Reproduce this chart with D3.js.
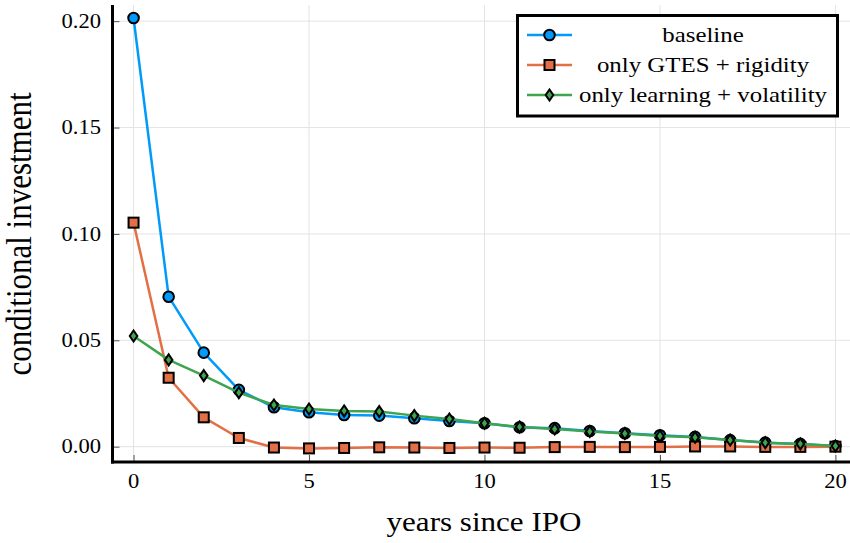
<!DOCTYPE html>
<html>
<head>
<meta charset="utf-8">
<script src="https://cdn.jsdelivr.net/npm/d3@7"></script>
<style>
  html, body { margin: 0; padding: 0; background: #fff; }
  svg text { font-family: "Liberation Serif", "DejaVu Serif", serif; fill: #000; }
</style>
</head>
<body>
<svg id="chart" width="850" height="543"></svg>
<script>
// Years since IPO
const years = d3.range(0, 21);

// Conditional investment by year, one array per model variant
const baseline = [0.2015, 0.0705, 0.0442, 0.0267, 0.0185, 0.0162, 0.0149, 0.0146, 0.0134, 0.0121,
                  0.0110, 0.0091, 0.0087, 0.0074, 0.0063, 0.0054, 0.0046, 0.0031, 0.0019, 0.0013, 0.0003];
const gtesRigidity = [0.1053, 0.0324, 0.0138, 0.0041, -0.0004, -0.0008, -0.0006, -0.0003, -0.0004, -0.0006,
                      -0.0004, -0.0005, -0.0002, -0.0001, -0.0002, -0.0001, 0.0001, 0.0001, -0.0001, -0.0001, 0.0000];
const learningVolatility = [0.0520, 0.0408, 0.0334, 0.0254, 0.0196, 0.0177, 0.0168, 0.0165, 0.0146, 0.0130,
                            0.0110, 0.0093, 0.0083, 0.0071, 0.0062, 0.0050, 0.0044, 0.0031, 0.0019, 0.0013, 0.0003];

const seriesNames = ["baseline", "only GTES + rigidity", "only learning + volatility"];
const seriesColors = ["#009AFA", "#E26F46", "#3EA44E"];
const seriesShapes = ["circle", "square", "diamond"];

const xTicks = [0, 5, 10, 15, 20];
const yTicks = [0.00, 0.05, 0.10, 0.15, 0.20];
const xTitle = "years since IPO";
const yTitle = "conditional investment";

const svg = d3.select("#chart");

const plot = { left: 112.5, right: 856.5, top: 5, bottom: 462 };

const x = d3.scaleLinear().domain([-0.6, 20.6]).range([plot.left, plot.right]);
const y = d3.scaleLinear().domain([-0.0072, 0.2076]).range([plot.bottom, plot.top]);

// Text is drawn slightly wide, like the rest of the figure
const stretch = 1.13;

// Grid lines
const grid = svg.append("g").attr("stroke", "#e3e3e3").attr("stroke-width", 1);
grid.selectAll(".gx").data(xTicks).join("line")
  .attr("x1", d => x(d)).attr("x2", d => x(d))
  .attr("y1", plot.top).attr("y2", plot.bottom);
grid.selectAll(".gy").data(yTicks).join("line")
  .attr("x1", plot.left).attr("x2", plot.right)
  .attr("y1", d => y(d)).attr("y2", d => y(d));

// Axes: inward ticks, labels placed separately
const xAxis = d3.axisBottom(x).tickValues(xTicks).tickSize(-7).tickFormat("");
const yAxis = d3.axisLeft(y).tickValues(yTicks).tickSize(-7).tickFormat("");

const gx = svg.append("g").attr("transform", `translate(0,${plot.bottom})`).call(xAxis);
gx.select(".domain").remove();
gx.selectAll(".tick line").attr("stroke", "#555").attr("stroke-width", 1);

const gy = svg.append("g").attr("transform", `translate(${plot.left},0)`).call(yAxis);
gy.select(".domain").remove();
gy.selectAll(".tick line").attr("stroke", "#555").attr("stroke-width", 1);

// Tick labels
svg.append("g").selectAll("text").data(xTicks).join("text")
  .attr("transform", d => `translate(${x(d)},488) scale(${stretch},1)`)
  .attr("text-anchor", "middle")
  .style("font-size", "20px")
  .text(d => d3.format("d")(d));

svg.append("g").selectAll("text").data(yTicks).join("text")
  .attr("transform", d => `translate(101,${y(d)}) scale(${stretch},1)`)
  .attr("dy", "0.34em")
  .attr("text-anchor", "end")
  .style("font-size", "20px")
  .text(d => d3.format(".2f")(d));

// Axis titles
svg.append("text")
  .attr("transform", `translate(484,531) scale(${stretch},1)`)
  .attr("text-anchor", "middle")
  .style("font-size", "27.5px")
  .text(xTitle);

svg.append("text")
  .attr("transform", `translate(31,234) scale(${stretch},1) rotate(-90)`)
  .attr("text-anchor", "middle")
  .style("font-size", "31px")
  .text(yTitle);

// Marker shapes
function marker(sel, shape, color) {
  if (shape === "circle") {
    sel.append("circle").attr("r", 5.3)
      .attr("fill", color).attr("stroke", "#000").attr("stroke-width", 2);
  } else if (shape === "square") {
    sel.append("rect").attr("x", -5).attr("y", -5).attr("width", 10).attr("height", 10)
      .attr("fill", color).attr("stroke", "#000").attr("stroke-width", 2);
  } else {
    sel.append("path").attr("d", "M0,-5.5L3.8,0L0,5.5L-3.8,0Z")
      .attr("fill", color).attr("stroke", "#000").attr("stroke-width", 2);
  }
}

const allSeries = [baseline, gtesRigidity, learningVolatility];
const line = d3.line().x((d, i) => x(years[i])).y(d => y(d));

allSeries.forEach((vals, k) => {
  const g = svg.append("g");
  g.append("path").datum(vals)
    .attr("d", line)
    .attr("fill", "none")
    .attr("stroke", seriesColors[k])
    .attr("stroke-width", 2.5)
    .attr("stroke-linejoin", "round");
  g.selectAll("g.pt").data(vals).join("g")
    .attr("class", "pt")
    .attr("transform", (d, i) => `translate(${x(years[i])},${y(d)})`)
    .each(function () { marker(d3.select(this), seriesShapes[k], seriesColors[k]); });
});

// Axis lines on top
svg.append("line")
  .attr("x1", plot.left).attr("x2", plot.left)
  .attr("y1", plot.top).attr("y2", plot.bottom + 1.5)
  .attr("stroke", "#000").attr("stroke-width", 3);
svg.append("line")
  .attr("x1", plot.left - 1.5).attr("x2", 850)
  .attr("y1", plot.bottom).attr("y2", plot.bottom)
  .attr("stroke", "#000").attr("stroke-width", 3);

// Legend
const legend = svg.append("g");
legend.append("rect")
  .attr("x", 517.5).attr("y", 15.5).attr("width", 320).attr("height", 100.5)
  .attr("fill", "#fff").attr("stroke", "#000").attr("stroke-width", 3);

seriesNames.forEach((name, k) => {
  const cy = 35 + k * 30;
  const row = legend.append("g");
  row.append("line")
    .attr("x1", 527).attr("x2", 572).attr("y1", cy).attr("y2", cy)
    .attr("stroke", seriesColors[k]).attr("stroke-width", 2.5);
  const m = row.append("g").attr("transform", `translate(549.5,${cy})`);
  marker(m, seriesShapes[k], seriesColors[k]);
  row.append("text")
    .attr("transform", `translate(703,${cy}) scale(${stretch},1)`)
    .attr("dy", "0.32em")
    .attr("text-anchor", "middle")
    .style("font-size", "22px")
    .text(name);
});
</script>
</body>
</html>
